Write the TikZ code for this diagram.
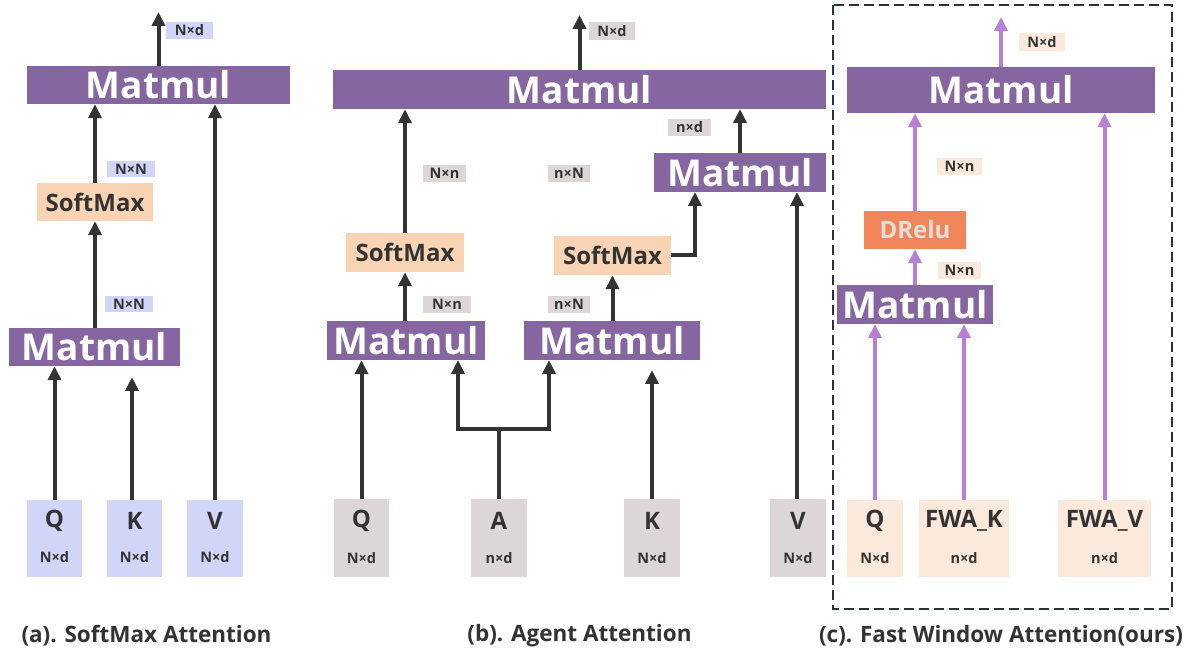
\documentclass[tikz,border=0pt]{standalone}
\usepackage{fontspec}
\setmainfont{Open Sans}
\usetikzlibrary{arrows.meta}
\definecolor{mmpurple}{HTML}{8566A1}
\definecolor{lav}{HTML}{D1D5F7}
\definecolor{smpeach}{HTML}{F8D4B4}
\definecolor{agray}{HTML}{DCD7D5}
\definecolor{lpeach}{HTML}{FBE9DC}
\definecolor{drorange}{HTML}{F0855A}
\definecolor{drtext}{HTML}{E4DEDA}
\definecolor{apurple}{HTML}{B77FD6}
\definecolor{dark}{HTML}{333333}
\definecolor{dashc}{HTML}{2B3138}
\tikzset{
  mm/.style={fill=mmpurple, text=white, inner sep=0pt, font=\bfseries\fontsize{37}{37}\selectfont},
  smbox/.style={fill=smpeach, text=dark, inner sep=0pt, minimum height=38pt, font=\bfseries\fontsize{24}{24}\selectfont},
  lab/.style={text=dark, inner sep=0pt, minimum height=17pt, font=\bfseries\fontsize{14.5}{14.5}\selectfont},
  inbox/.style={inner sep=0pt, minimum height=77pt},
  intxt/.style={text=dark, inner sep=0pt, font=\bfseries\fontsize{24}{24}\selectfont},
  indim/.style={text=dark, inner sep=0pt, font=\bfseries\fontsize{14.5}{14.5}\selectfont},
  captxt/.style={text=dark, inner sep=0pt, font=\bfseries\fontsize{22.5}{22.5}\selectfont},
  darr/.style={draw=dark, line width=4pt, -{Triangle[length=14pt,width=13pt]}},
  parr/.style={draw=apurple, line width=4pt, -{Triangle[length=14pt,width=13pt]}},
  dline/.style={draw=dark, line width=4pt},
}
\begin{document}
\begin{tikzpicture}[x=1pt,y=-1pt]
\useasboundingbox (0,0) rectangle (1195,652);
\fill[white] (0,0) rectangle (1195,652);

% ---------------- (a) ----------------
\node[mm, minimum width=263pt, minimum height=38pt] (amm2) at (158.5,85) {Matmul};
\node[smbox, minimum width=116pt] (asm) at (95,202) {SoftMax};
\node[mm, minimum width=171pt, minimum height=38pt] (amm1) at (94.5,347) {Matmul};
\node[inbox, fill=lav, minimum width=55pt] (aq) at (54.5,538.5) {};
\node[inbox, fill=lav, minimum width=55pt] (ak) at (134.5,538.5) {};
\node[inbox, fill=lav, minimum width=56pt] (av) at (215,538.5) {};
\node[intxt] (aqt) at (54.5,521) {Q};
\node[intxt] (akt) at (134.5,521) {K};
\node[intxt] (avt) at (215,521) {V};
\node[indim] (aqd) at (54.5,557) {N×d};
\node[indim] (akd) at (134.5,557) {N×d};
\node[indim] (avd) at (215,557) {N×d};
\node[lab, fill=lav, minimum width=47pt] (al1) at (189.5,30.5) {N×d};
\node[lab, fill=lav, minimum width=48pt, minimum height=16pt] (al2) at (131,169) {N×N};
\node[lab, fill=lav, minimum width=48pt, minimum height=16pt] (al3) at (129,304) {N×N};
\coordinate (aout) at (158.5,12);
\coordinate (akend) at (132,377);
\node[captxt] (acap) at (146.5,636) {(a). SoftMax Attention};

\draw[darr] (amm2.north) -- (aout);
\draw[darr] (asm.north) -- (asm.north |- amm2.south);
\draw[darr] (asm.south |- amm1.north) -- (asm.south);
\draw[darr] (aq.north) -- (aq.north |- amm1.south);
\draw[darr] (132,500) -- (akend);
\draw[darr] (av.north) -- (av.north |- amm2.south);

% ---------------- (b) ----------------
\node[mm, minimum width=493pt, minimum height=39pt] (bmm3) at (579.5,89.5) {Matmul};
\node[smbox, minimum width=118pt, minimum height=39pt] (bsm1) at (405,252.5) {SoftMax};
\node[mm, minimum width=172pt, minimum height=39pt] (bmm2) at (740,172.5) {Matmul};
\node[smbox, minimum width=117pt, minimum height=39pt] (bsm2) at (612.5,255.5) {SoftMax};
\node[mm, minimum width=158pt, minimum height=39pt] (bmm1a) at (406,340.5) {Matmul};
\node[mm, minimum width=176pt, minimum height=39pt] (bmm1b) at (612,340.5) {Matmul};
\node[inbox, fill=agray, minimum width=55pt, minimum height=78pt] (bq) at (361.5,538) {};
\node[inbox, fill=agray, minimum width=56pt, minimum height=78pt] (ba) at (499,538) {};
\node[inbox, fill=agray, minimum width=56pt, minimum height=78pt] (bk) at (652,538) {};
\node[inbox, fill=agray, minimum width=56pt, minimum height=78pt] (bv) at (798,538) {};
\node[intxt] (bqt) at (361.5,521) {Q};
\node[intxt] (bat) at (499,521) {A};
\node[intxt] (bkt) at (652,521) {K};
\node[intxt] (bvt) at (798,521) {V};
\node[indim] (bqd) at (361.5,558) {N×d};
\node[indim] (bad) at (499,558) {n×d};
\node[indim] (bkd) at (652,558) {N×d};
\node[indim] (bvd) at (798,558) {N×d};
\node[lab, fill=agray, minimum width=46pt, minimum height=18pt] (bl1) at (612,31) {N×d};
\node[lab, fill=agray, minimum width=43pt] (bl2) at (444.5,173.5) {N×n};
\node[lab, fill=agray, minimum width=42pt] (bl3) at (569,173.5) {n×N};
\node[lab, fill=agray, minimum width=43pt] (bl4) at (689.5,127.5) {n×d};
\node[lab, fill=agray, minimum width=48pt] (bl5) at (447,304.5) {N×n};
\node[lab, fill=agray, minimum width=42pt] (bl6) at (569,304.5) {n×N};
\coordinate (bout) at (579.5,15);
\coordinate (bsplit) at (499,429);
\coordinate (bkend) at (652,370);
\node[captxt] (bcap) at (579.5,636) {(b). Agent Attention};

\draw[darr] (bmm3.north) -- (bout);
\draw[darr] (bsm1.north) -- (bsm1.north |- bmm3.south);
\draw[darr] (740,153) -- (740,109);
\draw[darr] (bsm1.south |- bmm1a.north) -- (bsm1.south);
\draw[darr] (bsm2.south |- bmm1b.north) -- (bsm2.south);
\draw[darr] (bsm2.east) -| (695,192);
\draw[darr] (bq.north) -- (bq.north |- bmm1a.south);
\draw[dline] (ba.north) -- (bsplit);
\draw[darr] (bsplit) -| (458,360);
\draw[darr] (bsplit) -| (549,360);
\draw[darr] (bk.north) -- (bkend);
\draw[darr] (797,499) -- (797,192);

% ---------------- (c) ----------------
\draw[draw=dashc, line width=2pt, dash pattern=on 10pt off 5pt] (833,5) rectangle (1172,609);
\node[mm, minimum width=308pt, minimum height=46pt] (cmm2) at (1001,90) {Matmul};
\node[fill=drorange, text=drtext, inner sep=0pt, minimum width=102pt, minimum height=38pt, font=\bfseries\fontsize{24}{24}\selectfont] (cdr) at (915,230) {DRelu};
\node[mm, minimum width=156pt, minimum height=39pt] (cmm1) at (915,304.5) {Matmul};
\node[inbox, fill=lpeach, minimum width=56pt] (cq) at (875,538.5) {};
\node[inbox, fill=lpeach, minimum width=90pt] (cfk) at (964,538.5) {};
\node[inbox, fill=lpeach, minimum width=93pt] (cfv) at (1104.5,538.5) {};
\node[intxt] (cqt) at (875,521) {Q};
\node[intxt] (cfkt) at (964,521) {FWA\_K};
\node[intxt] (cfvt) at (1104.5,521) {FWA\_V};
\node[indim] (cqd) at (875,558) {N×d};
\node[indim] (cfkd) at (964,558) {n×d};
\node[indim] (cfvd) at (1104.5,558) {n×d};
\node[lab, fill=lpeach, minimum width=46pt, minimum height=18pt] (cl1) at (1042,42) {N×d};
\node[lab, fill=lpeach, minimum width=45pt] (cl2) at (959.5,166.5) {N×n};
\node[lab, fill=lpeach, minimum width=43pt] (cl3) at (959.5,270.5) {N×n};
\coordinate (cout) at (1001,17);
\node[captxt] (ccap) at (1001,636) {(c). Fast Window Attention(ours)};

\draw[parr] (cmm2.north) -- (cout);
\draw[parr] (cdr.north) -- (cdr.north |- cmm2.south);
\draw[parr] (cdr.south |- cmm1.north) -- (cdr.south);
\draw[parr] (cq.north) -- (cq.north |- cmm1.south);
\draw[parr] (cfk.north) -- (cfk.north |- cmm1.south);
\draw[parr] (cfv.north) -- (cfv.north |- cmm2.south);
\end{tikzpicture}
\end{document}
